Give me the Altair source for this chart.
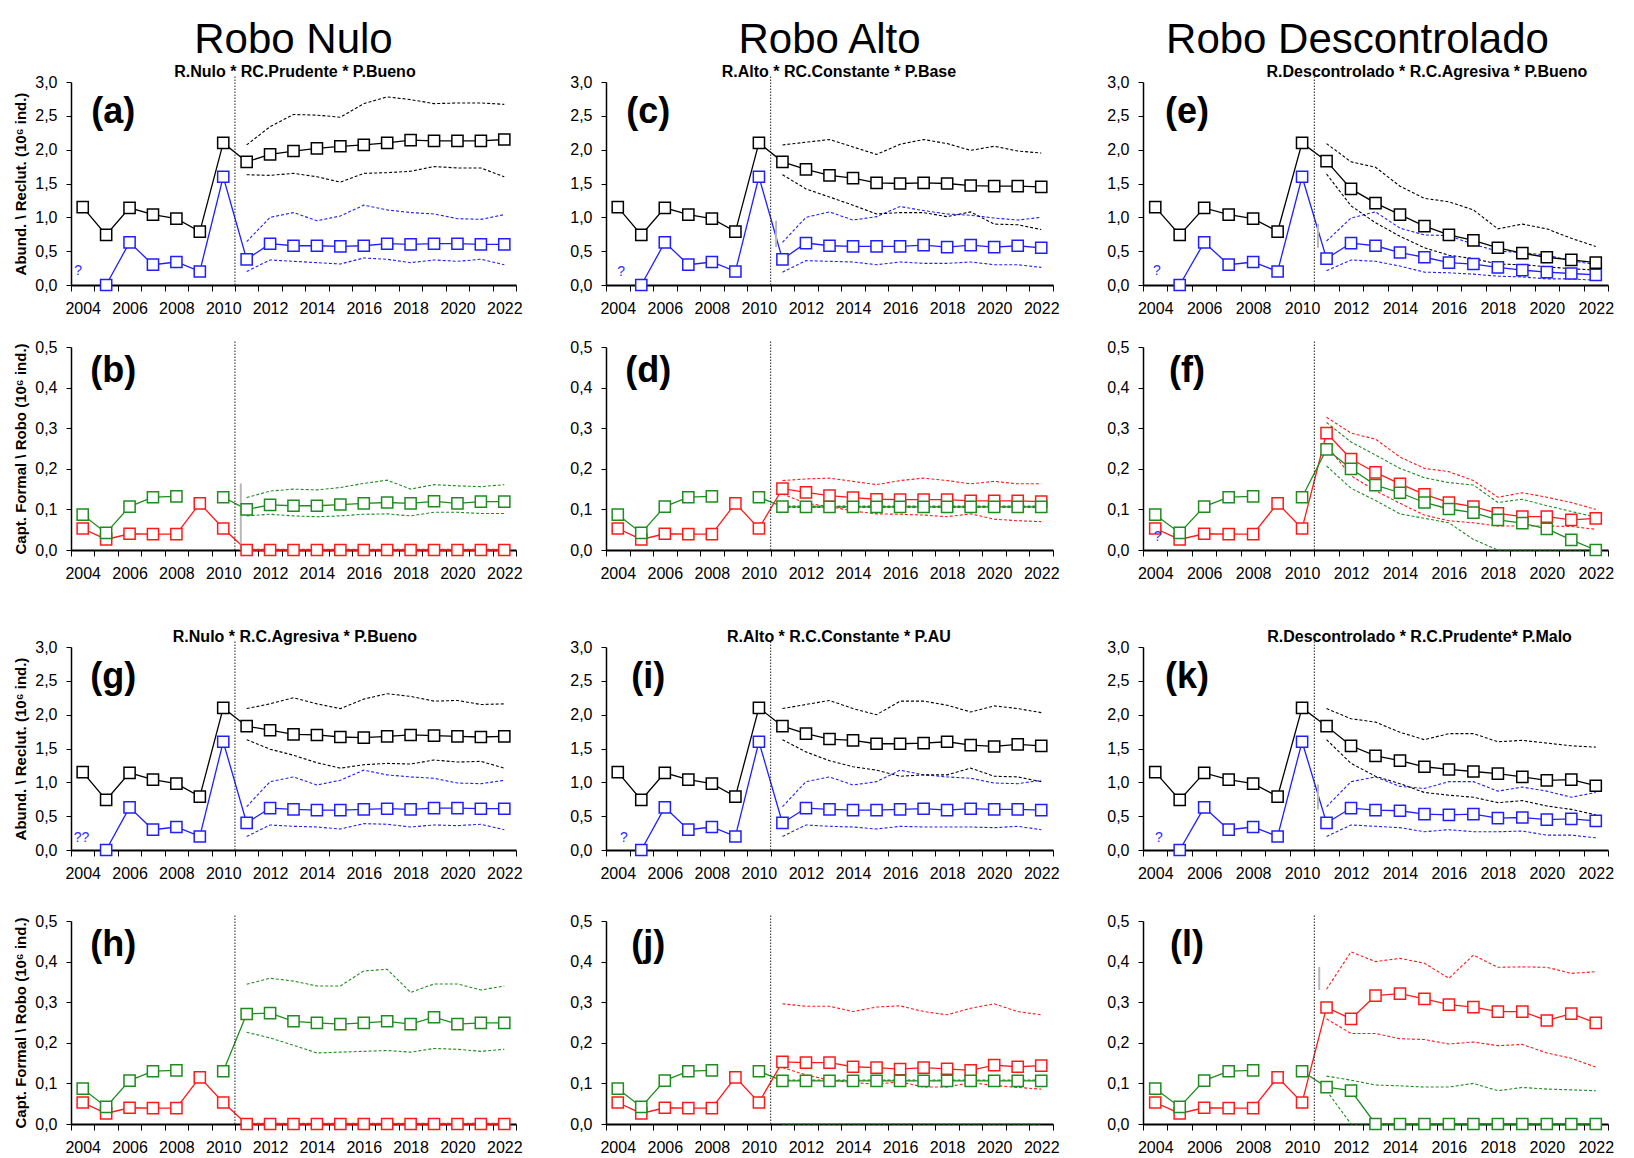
import altair as alt
import pandas as pd

FONT = "'Liberation Sans', Arial, Helvetica, sans-serif"

# ---------------- data ----------------
HIST_YEARS = [2004, 2005, 2006, 2007, 2008, 2009, 2010]
FC_YEARS = [2011, 2012, 2013, 2014, 2015, 2016, 2017, 2018, 2019, 2020, 2021, 2022]

hist_abund = [1.15, 0.74, 1.14, 1.04, 0.98, 0.79, 2.10]
hist_recl = [None, 0.0, 0.63, 0.30, 0.34, 0.20, 1.60]
hist_formal = [0.087, 0.042, 0.107, 0.130, 0.132, None, 0.130]
hist_robo = [0.053, 0.026, 0.040, 0.039, 0.039, 0.115, 0.053]

# (a)
a_abund = [1.82, 1.93, 1.98, 2.02, 2.05, 2.07, 2.10, 2.14, 2.13, 2.13, 2.13, 2.15]
a_abund_hi = [2.07, 2.34, 2.52, 2.51, 2.48, 2.68, 2.78, 2.74, 2.68, 2.69, 2.69, 2.67]
a_abund_lo = [1.63, 1.62, 1.65, 1.60, 1.52, 1.65, 1.66, 1.68, 1.75, 1.73, 1.73, 1.60]
a_recl = [0.38, 0.61, 0.58, 0.58, 0.57, 0.58, 0.61, 0.60, 0.61, 0.61, 0.60, 0.60]
a_recl_hi = [0.64, 1.00, 1.07, 0.95, 1.02, 1.18, 1.11, 1.07, 1.05, 0.98, 0.97, 1.04]
a_recl_lo = [0.20, 0.37, 0.35, 0.33, 0.31, 0.40, 0.38, 0.33, 0.37, 0.35, 0.38, 0.30]
# (c)
c_abund = [1.82, 1.71, 1.62, 1.58, 1.51, 1.50, 1.51, 1.50, 1.47, 1.46, 1.46, 1.45]
c_abund_hi = [2.07, 2.11, 2.15, 2.04, 1.93, 2.08, 2.15, 2.09, 1.99, 2.05, 1.98, 1.95]
c_abund_lo = [1.63, 1.42, 1.30, 1.18, 1.05, 1.07, 1.07, 1.01, 1.08, 0.90, 0.89, 0.82]
c_recl = [0.38, 0.62, 0.58, 0.57, 0.57, 0.57, 0.59, 0.56, 0.59, 0.56, 0.58, 0.55]
c_recl_hi = [0.63, 1.00, 1.08, 0.96, 1.01, 1.16, 1.10, 1.05, 1.03, 0.99, 0.96, 1.00]
c_recl_lo = [0.19, 0.36, 0.35, 0.34, 0.30, 0.34, 0.32, 0.32, 0.34, 0.30, 0.30, 0.26]
# (e)
e_abund = [1.83, 1.42, 1.21, 1.04, 0.87, 0.74, 0.66, 0.55, 0.47, 0.41, 0.37, 0.33]
e_abund_hi = [2.09, 1.82, 1.74, 1.46, 1.28, 1.23, 1.11, 0.83, 0.90, 0.83, 0.69, 0.57]
e_abund_lo = [1.64, 1.17, 0.92, 0.72, 0.55, 0.44, 0.39, 0.31, 0.30, 0.27, 0.24, 0.22]
e_recl = [0.39, 0.62, 0.58, 0.48, 0.41, 0.33, 0.31, 0.26, 0.22, 0.19, 0.17, 0.15]
e_recl_hi = [0.65, 0.99, 1.08, 0.84, 0.74, 0.73, 0.60, 0.50, 0.48, 0.44, 0.36, 0.30]
e_recl_lo = [0.21, 0.37, 0.35, 0.28, 0.19, 0.18, 0.16, 0.13, 0.12, 0.09, 0.09, 0.07]
# (b)
b_formal = [0.100, 0.111, 0.109, 0.109, 0.112, 0.115, 0.117, 0.115, 0.120, 0.115, 0.119, 0.119]
b_formal_hi = [0.129, 0.145, 0.150, 0.148, 0.154, 0.164, 0.172, 0.150, 0.161, 0.158, 0.156, 0.161]
b_formal_lo = [0.084, 0.088, 0.084, 0.082, 0.084, 0.088, 0.089, 0.084, 0.093, 0.093, 0.090, 0.090]
b_robo = [0.0, 0.0, 0.0, 0.0, 0.0, 0.0, 0.0, 0.0, 0.0, 0.0, 0.0, 0.0]
b_robo_hi = [0.002, 0.002, 0.002, 0.002, 0.002, 0.002, 0.002, 0.002, 0.002, 0.002, 0.002, 0.002]
b_robo_lo = [0.0, 0.0, 0.0, 0.0, 0.0, 0.0, 0.0, 0.0, 0.0, 0.0, 0.0, 0.0]
# (d)
d_formal = [0.107, 0.106, 0.106, 0.106, 0.106, 0.106, 0.106, 0.106, 0.106, 0.106, 0.106, 0.106]
d_formal_hi = [0.108, 0.108, 0.108, 0.108, 0.108, 0.108, 0.108, 0.108, 0.108, 0.108, 0.108, 0.108]
d_formal_lo = [0.105, 0.105, 0.105, 0.105, 0.105, 0.105, 0.105, 0.105, 0.105, 0.105, 0.105, 0.105]
d_robo = [0.151, 0.142, 0.134, 0.129, 0.125, 0.124, 0.124, 0.124, 0.121, 0.121, 0.121, 0.119]
d_robo_hi = [0.171, 0.175, 0.177, 0.169, 0.161, 0.171, 0.177, 0.171, 0.163, 0.169, 0.163, 0.163]
d_robo_lo = [0.138, 0.115, 0.107, 0.096, 0.089, 0.088, 0.086, 0.082, 0.089, 0.076, 0.072, 0.070]
# (f)
f_formal = [0.248, 0.200, 0.160, 0.141, 0.117, 0.101, 0.092, 0.074, 0.066, 0.052, 0.025, 0.0]
f_formal_hi = [0.314, 0.266, 0.234, 0.201, 0.178, 0.166, 0.160, 0.117, 0.125, 0.109, 0.095, 0.081]
f_formal_lo = [0.207, 0.152, 0.122, 0.089, 0.078, 0.067, 0.026, 0.0, 0.0, 0.0, 0.0, 0.0]
f_robo = [0.288, 0.224, 0.191, 0.163, 0.137, 0.117, 0.107, 0.090, 0.082, 0.082, 0.074, 0.078]
f_robo_hi = [0.327, 0.288, 0.273, 0.229, 0.201, 0.193, 0.171, 0.130, 0.141, 0.130, 0.117, 0.100]
f_robo_lo = [0.257, 0.183, 0.146, 0.115, 0.086, 0.072, 0.067, 0.059, 0.059, 0.059, 0.058, 0.051]
# (g)
g_abund = [1.83, 1.77, 1.71, 1.70, 1.67, 1.66, 1.68, 1.70, 1.69, 1.68, 1.67, 1.68]
g_abund_hi = [2.09, 2.16, 2.25, 2.16, 2.09, 2.23, 2.31, 2.27, 2.20, 2.21, 2.15, 2.16]
g_abund_lo = [1.63, 1.49, 1.40, 1.29, 1.21, 1.26, 1.28, 1.27, 1.33, 1.30, 1.31, 1.21]
g_recl = [0.40, 0.62, 0.60, 0.59, 0.59, 0.60, 0.61, 0.60, 0.62, 0.62, 0.61, 0.61]
g_recl_hi = [0.64, 1.01, 1.08, 0.96, 1.03, 1.18, 1.11, 1.08, 1.06, 0.99, 0.98, 1.03]
g_recl_lo = [0.20, 0.37, 0.35, 0.34, 0.31, 0.39, 0.38, 0.34, 0.37, 0.36, 0.38, 0.30]
# (i)
i_abund = [1.83, 1.72, 1.64, 1.62, 1.57, 1.57, 1.58, 1.60, 1.55, 1.53, 1.56, 1.54]
i_abund_hi = [2.09, 2.15, 2.21, 2.09, 2.00, 2.20, 2.20, 2.14, 2.04, 2.13, 2.09, 2.03]
i_abund_lo = [1.63, 1.45, 1.32, 1.23, 1.18, 1.09, 1.11, 1.11, 1.21, 1.09, 1.08, 1.01]
i_recl = [0.40, 0.62, 0.60, 0.59, 0.59, 0.60, 0.61, 0.59, 0.61, 0.60, 0.60, 0.59]
i_recl_hi = [0.64, 1.01, 1.08, 0.96, 1.01, 1.18, 1.11, 1.08, 1.06, 0.99, 0.98, 1.03]
i_recl_lo = [0.20, 0.37, 0.35, 0.34, 0.31, 0.35, 0.34, 0.34, 0.34, 0.33, 0.35, 0.30]
# (k)
k_abund = [1.83, 1.54, 1.39, 1.32, 1.23, 1.19, 1.16, 1.13, 1.08, 1.03, 1.04, 0.95]
k_abund_hi = [2.09, 1.94, 1.89, 1.74, 1.63, 1.72, 1.72, 1.60, 1.62, 1.58, 1.54, 1.52]
k_abund_lo = [1.63, 1.28, 1.09, 0.98, 0.85, 0.81, 0.78, 0.70, 0.73, 0.65, 0.60, 0.52]
k_recl = [0.40, 0.62, 0.59, 0.58, 0.53, 0.52, 0.53, 0.47, 0.48, 0.45, 0.46, 0.43]
k_recl_hi = [0.64, 1.01, 1.08, 0.94, 0.91, 1.01, 1.01, 0.87, 0.93, 0.87, 0.78, 0.85]
k_recl_lo = [0.20, 0.37, 0.35, 0.33, 0.27, 0.30, 0.27, 0.27, 0.28, 0.22, 0.22, 0.18]
# (h)
h_formal = [0.271, 0.273, 0.253, 0.249, 0.246, 0.249, 0.253, 0.246, 0.263, 0.246, 0.249, 0.249]
h_formal_hi = [0.344, 0.359, 0.352, 0.340, 0.340, 0.377, 0.381, 0.324, 0.345, 0.345, 0.330, 0.340]
h_formal_lo = [0.226, 0.212, 0.194, 0.175, 0.177, 0.179, 0.181, 0.177, 0.186, 0.184, 0.179, 0.184]
h_robo = [0.0, 0.0, 0.0, 0.0, 0.0, 0.0, 0.0, 0.0, 0.0, 0.0, 0.0, 0.0]
h_robo_hi = [0.002, 0.002, 0.002, 0.002, 0.002, 0.002, 0.002, 0.002, 0.002, 0.002, 0.002, 0.002]
h_robo_lo = [0.0, 0.0, 0.0, 0.0, 0.0, 0.0, 0.0, 0.0, 0.0, 0.0, 0.0, 0.0]
# (j)
j_formal = [0.106, 0.106, 0.106, 0.106, 0.106, 0.106, 0.106, 0.106, 0.106, 0.106, 0.106, 0.106]
j_formal_hi = [0.108, 0.108, 0.108, 0.108, 0.108, 0.108, 0.108, 0.108, 0.108, 0.108, 0.108, 0.108]
j_formal_lo = [0.0, 0.0, 0.0, 0.0, 0.0, 0.0, 0.0, 0.0, 0.0, 0.0, 0.0, 0.0]
j_robo = [0.153, 0.151, 0.151, 0.141, 0.139, 0.135, 0.139, 0.136, 0.132, 0.145, 0.141, 0.144]
j_robo_hi = [0.296, 0.290, 0.290, 0.277, 0.288, 0.291, 0.277, 0.269, 0.285, 0.296, 0.277, 0.269]
j_robo_lo = [0.139, 0.121, 0.108, 0.102, 0.098, 0.104, 0.091, 0.091, 0.102, 0.095, 0.090, 0.086]
# (l)
l_formal = [0.091, 0.082, 0.0, 0.0, 0.0, 0.0, 0.0, 0.0, 0.0, 0.0, 0.0, 0.0]
l_formal_hi = [0.118, 0.108, 0.096, 0.094, 0.091, 0.091, 0.100, 0.082, 0.090, 0.086, 0.084, 0.082]
l_formal_lo = [0.082, 0.0, 0.0, 0.0, 0.0, 0.0, 0.0, 0.0, 0.0, 0.0, 0.0, 0.0]
l_robo = [0.287, 0.259, 0.316, 0.321, 0.308, 0.294, 0.288, 0.277, 0.277, 0.255, 0.272, 0.249]
l_robo_hi = [0.332, 0.424, 0.400, 0.408, 0.396, 0.359, 0.416, 0.386, 0.387, 0.386, 0.371, 0.375]
l_robo_lo = [0.259, 0.223, 0.223, 0.210, 0.208, 0.197, 0.202, 0.193, 0.196, 0.175, 0.162, 0.140]

COL_TITLES = ["Robo Nulo", "Robo Alto", "Robo Descontrolado"]
SUBTITLES = {
    "a": "R.Nulo * RC.Prudente * P.Bueno",
    "c": "R.Alto * RC.Constante * P.Base",
    "e": "R.Descontrolado * R.C.Agresiva * P.Bueno",
    "g": "R.Nulo * R.C.Agresiva * P.Bueno",
    "i": "R.Alto * R.C.Constante  * P.AU",
    "k": "R.Descontrolado * R.C.Prudente* P.Malo",
}
SUB_X = {"a": 2013.06, "c": 2013.4, "e": 2015.1, "g": 2013.06, "i": 2013.4, "k": 2014.8}
QMARKS = {
    "a": (2003.8, 0.20, "?"), "c": (2004.14, 0.19, "?"), "e": (2004.07, 0.20, "?"),
    "g": (2003.95, 0.18, "??"), "i": (2004.26, 0.18, "?"), "k": (2004.15, 0.18, "?"),
    "f": (2004.1, 0.033, "?"),
}
ARTIFACTS = {
    "b": (2010.75, 0.0, 0.164), "c": (2010.73, 0.56, 0.95), "e": (2010.65, 0.55, 0.90),
    "k": (2010.65, 0.60, 0.97), "l": (2010.7, 0.33, 0.387),
}

SERIES = ["abund", "recl", "formal", "robo"]
COLORS = ["#000000", "#1f1fff", "#1e8c1e", "#ff1a1a"]

ABUND_AXIS = "Abund. \\ Reclut. (10\u2076 ind.)"
CAPT_AXIS = "Capt. Formal \\ Robo (10\u2076 ind.)"

PANEL_H = 203
COL_W = [445, 447, 465]
XTICKS = [2003.5 + k for k in range(20)]


def series_rows(name, hist, mean, hi, lo):
    mean_rows, band_rows = [], []
    seg = 0
    for yr, v in zip(HIST_YEARS, hist):
        if v is None:
            seg += 1
            continue
        mean_rows.append({"year": yr, "value": v, "series": name, "seg": f"{name}{seg}"})
    for yr, v in zip(FC_YEARS, mean):
        mean_rows.append({"year": yr, "value": v, "series": name, "seg": f"{name}{seg}"})
    for tag, arr in (("hi", hi), ("lo", lo)):
        for yr, v in zip(FC_YEARS, arr):
            band_rows.append({"year": yr, "value": v, "series": name, "line": f"{name}_{tag}"})
    return mean_rows, band_rows


def panel(key, col, kind, s1, s2, title=None):
    w = COL_W[col]
    top = 3.0 if kind == "abund" else 0.5
    yvals = [0, 0.5, 1.0, 1.5, 2.0, 2.5, 3.0] if kind == "abund" else [0, 0.1, 0.2, 0.3, 0.4, 0.5]
    names = ("abund", "recl") if kind == "abund" else ("formal", "robo")
    hists = (hist_abund, hist_recl) if kind == "abund" else (hist_formal, hist_robo)
    m1, b1 = series_rows(names[0], hists[0], *s1)
    m2, b2 = series_rows(names[1], hists[1], *s2)
    mean_df = pd.DataFrame(m2 + m1)
    band_df = pd.DataFrame(b2 + b1)

    x_axis = alt.Axis(values=XTICKS,
                      labelExpr="(datum.value + 0.5) % 2 == 0 ? toString(datum.value + 0.5) : ''",
                      labelOffset=w / 38.0, labelFlush=False, labelOverlap=False,
                      title=None, grid=False, tickSize=6, labelPadding=9,
                      labelFontSize=16, domainWidth=2)
    y_kwargs = dict(values=yvals, labelExpr="replace(format(datum.value, '.1f'), '.', ',')",
                    grid=False, tickSize=5, labelPadding=9, labelFontSize=16,
                    domainWidth=1.5, labelFlush=False)
    if col == 0:
        y_kwargs["title"] = ABUND_AXIS if kind == "abund" else CAPT_AXIS
        y_kwargs["titlePadding"] = 6
    else:
        y_kwargs["title"] = None
    X = alt.X("year:Q", scale=alt.Scale(domain=[2003.5, 2022.5], nice=False, zero=False), axis=x_axis)
    Y = alt.Y("value:Q", scale=alt.Scale(domain=[0, top], nice=False, zero=True), axis=alt.Axis(**y_kwargs))
    C = alt.Color("series:N", scale=alt.Scale(domain=SERIES, range=COLORS), legend=None)
    S = alt.Stroke("series:N", scale=alt.Scale(domain=SERIES, range=COLORS), legend=None)

    layers = []
    layers.append(alt.Chart(band_df).mark_line(strokeDash=[3, 2], strokeWidth=1.1).encode(
        x=X, y=Y, color=C, detail="line:N"))
    layers.append(alt.Chart(mean_df).mark_line(strokeWidth=1.3).encode(
        x=X, y=Y, color=C, detail="seg:N"))
    vdf = pd.DataFrame({"year": [2010.5], "value": [0.0], "value2": [top * 1.03]})
    layers.append(alt.Chart(vdf).mark_rule(color="#222222", strokeWidth=1, strokeDash=[1.5, 1.5]).encode(
        x=X, y=Y, y2="value2:Q"))
    if key in ARTIFACTS:
        ax, a1, a2 = ARTIFACTS[key]
        adf = pd.DataFrame({"year": [ax], "value": [a1], "value2": [a2]})
        layers.append(alt.Chart(adf).mark_rule(color="#b8b8b8", strokeWidth=2).encode(
            x=X, y=Y, y2="value2:Q"))
    layers.append(alt.Chart(mean_df).mark_point(shape="square", size=125, filled=True, fill="white",
                                                opacity=1, strokeWidth=1.5).encode(x=X, y=Y, stroke=S))
    ldf = pd.DataFrame({"year": [2005.3], "value": [top * (2.56 / 3.0) if kind == "abund" else 0.44],
                        "text": [f"({key})"]})
    layers.append(alt.Chart(ldf).mark_text(font=FONT, fontSize=36, fontWeight="bold", color="black",
                                           baseline="middle", align="center").encode(x=X, y=Y, text="text:N"))
    if key in SUBTITLES:
        sdf = pd.DataFrame({"year": [SUB_X[key]], "value": [top], "text": [SUBTITLES[key]]})
        layers.append(alt.Chart(sdf).mark_text(font=FONT, fontSize=16, fontWeight="bold", color="black",
                                               baseline="alphabetic", align="center", dy=-5).encode(
            x=X, y=Y, text="text:N"))
    if key in QMARKS:
        qx, qy, qt = QMARKS[key]
        qdf = pd.DataFrame({"year": [qx], "value": [qy], "text": [qt]})
        layers.append(alt.Chart(qdf).mark_text(font=FONT, fontSize=14, color="#3030ff",
                                               baseline="middle", align="center").encode(
            x=X, y=Y, text="text:N"))
    ch = alt.layer(*layers).properties(width=w, height=PANEL_H)
    if title is not None:
        ch = ch.properties(title=alt.TitleParams(
            text=title, fontSize=42, font=FONT, fontWeight="normal", color="black",
            anchor="middle", frame="group", offset=2, dx=(-18 if col == 2 else 0)))
    return ch


def spacer(h):
    sdf = pd.DataFrame({"year": [2010.0], "value": [0.0]})
    return alt.Chart(sdf).mark_point(opacity=0).encode(
        x=alt.X("year:Q", axis=None), y=alt.Y("value:Q", axis=None)).properties(width=10, height=h)


cells = [
    panel("a", 0, "abund", (a_abund, a_abund_hi, a_abund_lo), (a_recl, a_recl_hi, a_recl_lo), COL_TITLES[0]),
    panel("c", 1, "abund", (c_abund, c_abund_hi, c_abund_lo), (c_recl, c_recl_hi, c_recl_lo), COL_TITLES[1]),
    panel("e", 2, "abund", (e_abund, e_abund_hi, e_abund_lo), (e_recl, e_recl_hi, e_recl_lo), COL_TITLES[2]),
    spacer(62), spacer(62), spacer(62),
    panel("b", 0, "capt", (b_formal, b_formal_hi, b_formal_lo), (b_robo, b_robo_hi, b_robo_lo)),
    panel("d", 1, "capt", (d_formal, d_formal_hi, d_formal_lo), (d_robo, d_robo_hi, d_robo_lo)),
    panel("f", 2, "capt", (f_formal, f_formal_hi, f_formal_lo), (f_robo, f_robo_hi, f_robo_lo)),
    spacer(97), spacer(97), spacer(97),
    panel("g", 0, "abund", (g_abund, g_abund_hi, g_abund_lo), (g_recl, g_recl_hi, g_recl_lo)),
    panel("i", 1, "abund", (i_abund, i_abund_hi, i_abund_lo), (i_recl, i_recl_hi, i_recl_lo)),
    panel("k", 2, "abund", (k_abund, k_abund_hi, k_abund_lo), (k_recl, k_recl_hi, k_recl_lo)),
    spacer(71), spacer(71), spacer(71),
    panel("h", 0, "capt", (h_formal, h_formal_hi, h_formal_lo), (h_robo, h_robo_hi, h_robo_lo)),
    panel("j", 1, "capt", (j_formal, j_formal_hi, j_formal_lo), (j_robo, j_robo_hi, j_robo_lo)),
    panel("l", 2, "capt", (l_formal, l_formal_hi, l_formal_lo), (l_robo, l_robo_hi, l_robo_lo)),
]

chart = alt.concat(*cells, columns=3, spacing={"row": 0, "column": 90}, bounds="flush").resolve_scale(
    x="independent", y="independent"
).properties(
    padding={"left": 5, "top": 11, "right": 5, "bottom": 5}
).configure_view(strokeWidth=0).configure_axis(
    labelFont=FONT, labelColor="black", domainColor="black", tickColor="black",
    titleFont=FONT, titleFontSize=15, titleFontWeight="bold", titleColor="black"
)

chart.save("out.html", embed_options={"renderer": "svg", "actions": False})
